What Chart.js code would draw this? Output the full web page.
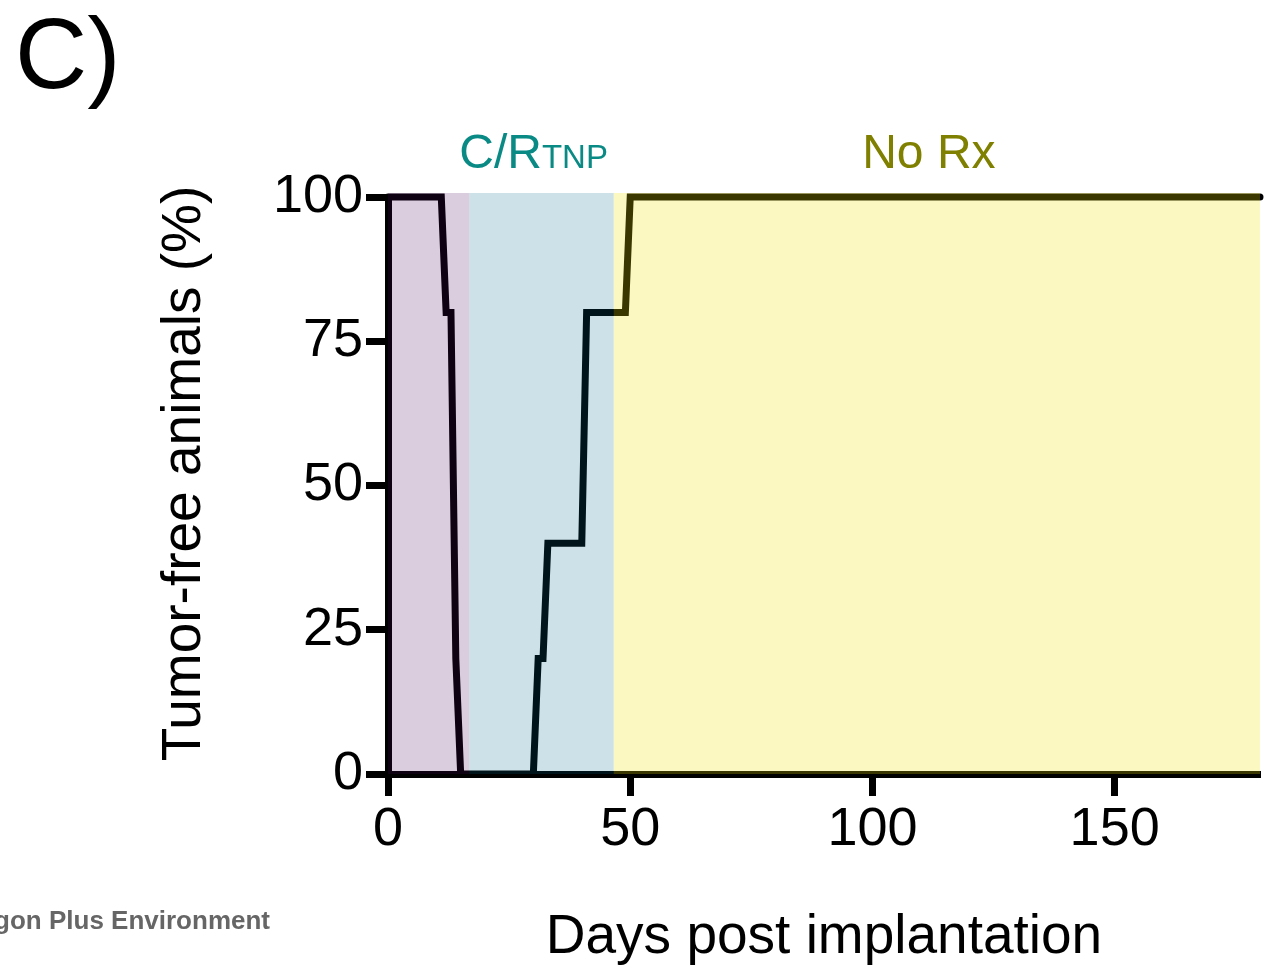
<!DOCTYPE html>
<html>
<head>
<meta charset="utf-8">
<script src="https://cdn.jsdelivr.net/npm/chart.js@4.4.1/dist/chart.umd.min.js"></script>
<style>
  html, body { margin: 0; padding: 0; background: #fff; }
  #wrap { position: relative; width: 1285px; height: 973px; }
</style>
</head>
<body>
<div id="wrap"><canvas id="survivalChart"></canvas></div>
<script>
// data
const days = [0, 11, 12, 13, 14, 15, 30, 31, 32, 33, 40, 41, 49, 50, 180];
const tumorFree = [100, 100, 80, 80, 20, 0, 0, 20, 20, 40, 40, 80, 80, 100, 100];

// treatment phases (days)
const phaseStart = [0, 16.8, 46.6];
const phaseEnd = [16.8, 46.6, 180];
const phaseLabel = ["", "C/R|TNP", "No Rx"];
const phaseFill = ["rgba(65,5,90,0.2)", "rgba(0,102,143,0.196)", "rgba(239,230,0,0.243)"];
const phaseText = ["#000", "#0a8a85", "#7f7f00"];

const xTicks = [0, 50, 100, 150];
const yTicks = [0, 25, 50, 75, 100];

const FONT = "'Liberation Sans', Arial, Helvetica, sans-serif";

const phases = {
    id: "phases",
    afterDatasetsDraw(chart) {
        const { ctx, chartArea, scales } = chart;
        ctx.save();
        phaseStart.forEach((s, i) => {
            const x0 = scales.x.getPixelForValue(s);
            const x1 = scales.x.getPixelForValue(phaseEnd[i]);
            ctx.fillStyle = phaseFill[i];
            ctx.fillRect(x0, chartArea.top - 4, x1 - x0, chartArea.bottom - chartArea.top + 4);
        });
        ctx.restore();
    },
    afterDraw(chart) {
        const { ctx, scales } = chart;
        ctx.save();
        ctx.textBaseline = "alphabetic";
        phaseLabel.forEach((lab, i) => {
            if (!lab) return;
            const cx = scales.x.getPixelForValue((phaseStart[i] + phaseEnd[i]) / 2) - 8;
            const [main, sub] = lab.split("|");
            ctx.font = "48px " + FONT;
            const w1 = ctx.measureText(main).width;
            let w2 = 0;
            if (sub) {
                ctx.font = "33px " + FONT;
                w2 = ctx.measureText(sub).width;
            }
            const left = cx - (w1 + w2) / 2;
            ctx.fillStyle = phaseText[i];
            ctx.textAlign = "left";
            ctx.font = "48px " + FONT;
            ctx.fillText(main, left, 168);
            if (sub) {
                ctx.font = "33px " + FONT;
                ctx.fillText(sub, left + w1, 168);
            }
        });

        // y axis title
        ctx.save();
        ctx.translate(200, (scales.y.top + scales.y.bottom) / 2 - 12);
        ctx.rotate(-Math.PI / 2);
        ctx.textAlign = "center";
        ctx.fillStyle = "#000";
        ctx.font = "55px " + FONT;
        ctx.fillText("Tumor-free animals (%)", 0, 0);
        ctx.restore();

        // panel letter
        ctx.fillStyle = "#000";
        ctx.textAlign = "left";
        ctx.font = "100px " + FONT;
        ctx.fillText("C)", 15, 88);

        // page footer (cut off at the left edge)
        ctx.fillStyle = "#666";
        ctx.font = "bold 26px " + FONT;
        ctx.textAlign = "right";
        ctx.fillText("ACS Paragon Plus Environment", 270, 929);
        ctx.restore();
    }
};

new Chart(document.getElementById("survivalChart"), {
    type: "line",
    data: {
        datasets: [{
            data: days.map((d, i) => ({ x: d, y: tumorFree[i] })),
            borderColor: "#000",
            borderWidth: 7,
            pointRadius: 0,
            tension: 0,
            fill: false,
            clip: false,
            borderCapStyle: "round",
            borderJoinStyle: "miter"
        }]
    },
    options: {
        responsive: true,
        maintainAspectRatio: false,
        animation: false,
        layout: { padding: { left: 0, top: 197, right: 25, bottom: 0 } },
        plugins: { legend: { display: false }, tooltip: { enabled: false } },
        scales: {
            x: {
                type: "linear",
                min: 0,
                max: 180,
                z: 1,
                afterBuildTicks: s => { s.ticks = xTicks.map(v => ({ value: v })); },
                afterFit: s => { s.height = 199; },
                grid: { drawOnChartArea: false, tickLength: 22, tickWidth: 7, tickColor: "#000" },
                border: { display: true, width: 7, color: "#000" },
                ticks: { color: "#000", padding: 2, maxRotation: 0, font: { family: FONT, size: 54 } },
                title: {
                    display: true,
                    text: "Days post implantation",
                    color: "#000",
                    padding: { top: 0, bottom: 2 },
                    font: { family: FONT, size: 55 }
                }
            },
            y: {
                min: 0,
                max: 100,
                z: 1,
                afterBuildTicks: s => { s.ticks = yTicks.map(v => ({ value: v })); },
                afterFit: s => { s.width = 388; },
                grid: { drawOnChartArea: false, tickLength: 22, tickWidth: 7, tickColor: "#000" },
                border: { display: true, width: 7, color: "#000" },
                ticks: { color: "#000", padding: 3, font: { family: FONT, size: 54 } }
            }
        }
    },
    plugins: [phases]
});
</script>
</body>
</html>
